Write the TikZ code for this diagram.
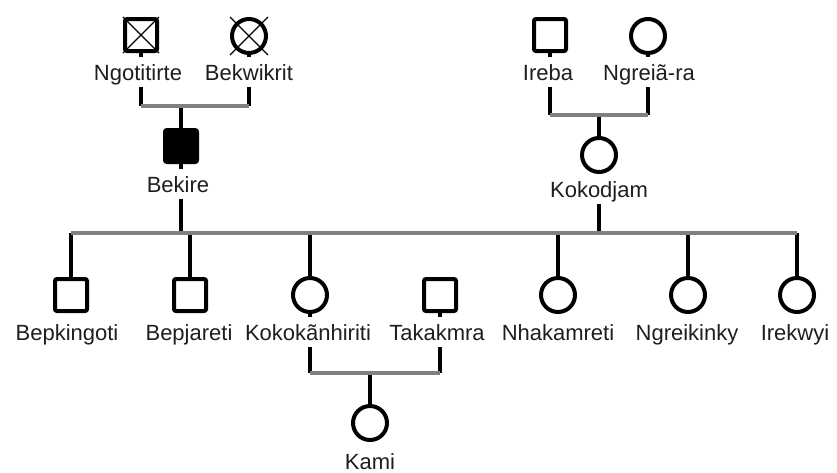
\documentclass[tikz,border=0pt]{standalone}
\usepackage{fontspec}
\setmainfont{Liberation Sans}
\usetikzlibrary{backgrounds}
\definecolor{linegray}{RGB}{128,128,128}
\definecolor{txt}{RGB}{30,30,30}
\tikzset{
  male/.style={draw=black, line width=4pt, fill=white, minimum size=32pt, inner sep=0pt, rounded corners=2pt, shape=rectangle},
  maleaff/.style={male, fill=black},
  female/.style={draw=black, line width=4pt, fill=white, minimum size=34pt, inner sep=0pt, shape=circle},
  lbl/.style={fill=white, inner xsep=2pt, inner ysep=0pt, text height=23pt, text depth=7pt, anchor=base, text=txt, font=\fontsize{22}{26}\selectfont},
  vline/.style={draw=black, line width=4pt},
  hline/.style={draw=linegray, line width=3.5pt},
  cross/.style={draw=black, line width=1.2pt}
}
\begin{document}
\begin{tikzpicture}[x=1pt, y=-1pt]
\useasboundingbox (0,0) rectangle (837,472);
% generation I
\node[male] (ngo) at (141,35) {};
\draw[cross] (ngo.north west) -- (ngo.south east);
\draw[cross] (ngo.north east) -- (ngo.south west);
\node[female] (bkw) at (249,36) {};
\draw[cross] ([shift={(-19,-19)}]bkw.center) -- ([shift={(19,19)}]bkw.center);
\draw[cross] ([shift={(19,-19)}]bkw.center) -- ([shift={(-19,19)}]bkw.center);
\node[male] (ire) at (550,35) {};
\node[female] (ngr) at (648,36) {};
\node[lbl] (ngoL) at (138,80) {Ngotitirte};
\node[lbl] (bkwL) at (249,80) {Bekwikrit};
\node[lbl] (ireL) at (548,80) {Ireba};
\node[lbl] (ngrL) at (649,80) {Ngreiã-ra};
% generation II
\node[maleaff] (bek) at (181,146) {};
\node[lbl] (bekL) at (178,192) {Bekire};
\node[female] (kod) at (599,155) {};
\node[lbl] (kodL) at (599,197) {Kokodjam};
% generation III
\node[male] (bpk) at (71,295) {};
\node[male] (bpj) at (190,295) {};
\node[female] (kkn) at (310,295) {};
\node[male] (tak) at (440,295) {};
\node[female] (nha) at (558,295) {};
\node[female] (ngk) at (688,295) {};
\node[female] (irk) at (797,295) {};
\node[lbl] (bpkL) at (67,340) {Bepkingoti};
\node[lbl] (bpjL) at (189,340) {Bepjareti};
\node[lbl] (kknL) at (308,340) {Kokokãnhiriti};
\node[lbl] (takL) at (437,340) {Takakmra};
\node[lbl] (nhaL) at (558,340) {Nhakamreti};
\node[lbl] (ngkL) at (687,340) {Ngreikinky};
\node[lbl] (irkL) at (795,340) {Irekwyi};
% generation IV
\node[female] (kam) at (370,423) {};
\node[lbl] (kamL) at (370,469) {Kami};
% junction coordinates
\coordinate (m1) at (181,106);
\coordinate (m2) at (599,115);
\coordinate (sib) at (0,233);
\coordinate (m3) at (370,373);
\begin{scope}[on background layer]
  % verticals
  \draw[vline] (ngo.center) -- (ngo |- m1);
  \draw[vline] (bkw.center) -- (bkw |- m1);
  \draw[vline] (m1) -- (bek.center);
  \draw[vline] (ire.center) -- (ire |- m2);
  \draw[vline] (ngr.center) -- (ngr |- m2);
  \draw[vline] (m2) -- (kod.center);
  \draw[vline] (bek.center) -- (bek |- sib);
  \draw[vline] (kod.center) -- (kod |- sib);
  \draw[vline] (bpk |- sib) -- (bpk.center);
  \draw[vline] (bpj |- sib) -- (bpj.center);
  \draw[vline] (kkn |- sib) -- (kkn |- m3);
  \draw[vline] (tak.center) -- (tak |- m3);
  \draw[vline] (nha |- sib) -- (nha.center);
  \draw[vline] (ngk |- sib) -- (ngk.center);
  \draw[vline] (irk |- sib) -- (irk.center);
  \draw[vline] (m3) -- (kam.center);
  % horizontals
  \draw[hline] (ngo |- m1) -- (bkw |- m1);
  \draw[hline] (ire |- m2) -- (ngr |- m2);
  \draw[hline] (bpk |- sib) -- (irk |- sib);
  \draw[hline] (kkn |- m3) -- (tak |- m3);
\end{scope}
\end{tikzpicture}
\end{document}
